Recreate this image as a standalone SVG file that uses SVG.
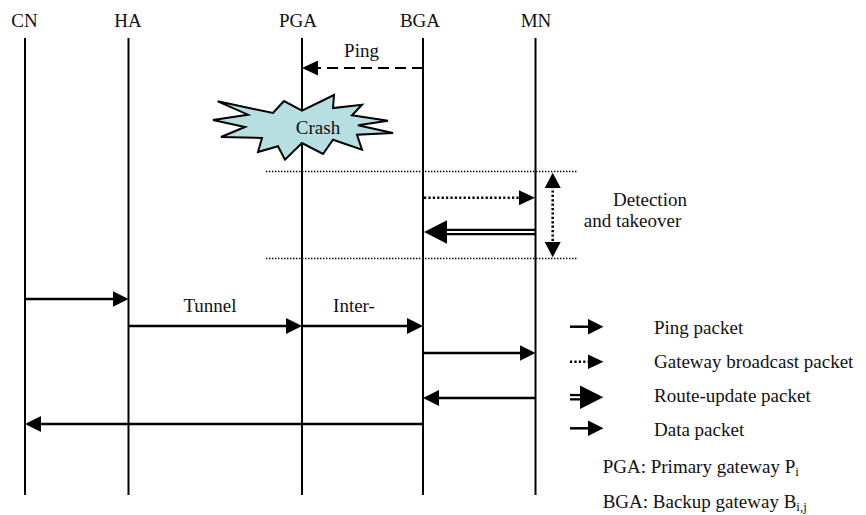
<svg xmlns="http://www.w3.org/2000/svg" width="866" height="515" viewBox="0 0 866 515">
  <style>
    text { font-family: "Liberation Serif", "Times New Roman", serif; font-size: 19px; fill: #111; }
    .mid { text-anchor: middle; }
    .life { stroke: #000; stroke-width: 2; fill: none; }
    .msg { stroke: #000; stroke-width: 2.5; fill: none; }
    .dash { stroke: #000; stroke-width: 2.2; fill: none; stroke-dasharray: 11 6; }
    .dot { stroke: #000; stroke-width: 2.6; fill: none; stroke-dasharray: 2.2 2.2; }
    .sep { stroke: #000; stroke-width: 1.3; fill: none; stroke-dasharray: 1.4 1.6; }
    .head { fill: #000; stroke: none; }
    .sub { font-size: 13px; }
  </style>
  <defs>
    <!-- solid triangular arrowhead; the line stops 8px short of the tip -->
    <marker id="arrow" markerUnits="userSpaceOnUse" viewBox="0 0 16 16" markerWidth="16" markerHeight="16" refX="8" refY="8" orient="auto">
      <path class="head" d="M0,0 L16,8 L0,16 z"/>
    </marker>
    <marker id="arrowSmall" markerUnits="userSpaceOnUse" viewBox="0 0 16 15" markerWidth="16" markerHeight="15" refX="8" refY="7.5" orient="auto">
      <path class="head" d="M0,0 L16,7.5 L0,15 z"/>
    </marker>
  </defs>

  <!-- participants: label + lifeline -->
  <g id="CN">
    <text class="mid" x="24.5" y="27">CN</text>
    <line class="life" x1="25" y1="38" x2="25" y2="495"/>
  </g>
  <g id="HA">
    <text class="mid" x="128" y="27">HA</text>
    <line class="life" x1="128.5" y1="38" x2="128.5" y2="495"/>
  </g>
  <g id="PGA">
    <text class="mid" x="298" y="27">PGA</text>
    <line class="life" x1="302" y1="38" x2="302" y2="495"/>
  </g>
  <g id="BGA">
    <text class="mid" x="420" y="27">BGA</text>
    <line class="life" x1="423" y1="38" x2="423" y2="495"/>
  </g>
  <g id="MN">
    <text class="mid" x="536" y="27">MN</text>
    <line class="life" x1="535.5" y1="38" x2="535.5" y2="495"/>
  </g>

  <!-- crash burst over the primary gateway lifeline -->
  <g id="crash">
    <polygon fill="#b6dfe2" stroke="#000" stroke-width="2" stroke-linejoin="miter"
      points="217.7,101.3 273,113 284,101 302,110.7 334,95 333,108 362,104.7 352,115.3 388,120.7 358,125.3 393,133 357,134.7 362,149.7 333,139.7 323,154 302,143 285,159.7 278,146.3 258,152 262,138 221,137 245,127 213,120 248,114.7"/>
    <text class="mid" x="318" y="134">Crash</text>
  </g>

  <!-- detection and takeover window -->
  <g id="detection">
    <line class="sep" x1="266" y1="171.5" x2="577" y2="171.5"/>
    <line class="sep" x1="266" y1="258.5" x2="577" y2="258.5"/>
    <text class="mid" x="650" y="206">Detection</text>
    <text class="mid" x="632.5" y="227">and takeover</text>
  </g>

  <!-- messages -->
  <g id="connectors">
    <!-- ping BGA -> PGA -->
    <line class="dash" x1="423" y1="68" x2="310" y2="68" marker-end="url(#arrowSmall)"/>
    <text class="mid" x="361.5" y="57">Ping</text>

    <!-- gateway broadcast BGA -> MN -->
    <line class="dot" x1="424" y1="197.7" x2="527" y2="197.7" marker-end="url(#arrowSmall)"/>

    <!-- route update MN -> BGA (double line) -->
    <line stroke="#000" stroke-width="6.6" x1="535" y1="232" x2="445" y2="232"/>
    <line stroke="#fff" stroke-width="2" x1="534.4" y1="232" x2="445" y2="232"/>
    <polygon class="head" points="424,232 447,220.3 447,243.7"/>

    <!-- detection interval -->
    <line class="dot" x1="552.7" y1="186" x2="552.7" y2="244"/>
    <polygon class="head" points="552.7,172.7 544.7,188 560.7,188"/>
    <polygon class="head" points="552.7,257.3 544.7,242 560.7,242"/>

    <!-- data path after takeover -->
    <line class="msg" x1="25" y1="299" x2="120.5" y2="299" marker-end="url(#arrow)"/>
    <line class="msg" x1="128.5" y1="326" x2="294" y2="326" marker-end="url(#arrow)"/>
    <text class="mid" x="210" y="312">Tunnel</text>
    <line class="msg" x1="302" y1="326" x2="415" y2="326" marker-end="url(#arrow)"/>
    <text class="mid" x="354" y="312">Inter-</text>
    <line class="msg" x1="423" y1="353" x2="527.5" y2="353" marker-end="url(#arrow)"/>
    <line class="msg" x1="535.5" y1="398" x2="431" y2="398" marker-end="url(#arrow)"/>
    <line class="msg" x1="423" y1="424" x2="33" y2="424" marker-end="url(#arrow)"/>
  </g>

  <!-- legend -->
  <g id="legend">
    <line class="msg" x1="570" y1="326.7" x2="595.5" y2="326.7" marker-end="url(#arrow)"/>
    <text x="654" y="334">Ping packet</text>

    <line class="dot" x1="570" y1="361.7" x2="595.5" y2="361.7" marker-end="url(#arrowSmall)"/>
    <text x="654" y="367.5">Gateway broadcast packet</text>

    <line stroke="#000" stroke-width="6.6" x1="570" y1="397.2" x2="582" y2="397.2"/>
    <line stroke="#fff" stroke-width="2" x1="569" y1="397.2" x2="582" y2="397.2"/>
    <polygon class="head" points="603.3,397.2 580,385.5 580,408.9"/>
    <text x="654" y="401.7">Route-update packet</text>

    <line class="msg" x1="570" y1="428.3" x2="595.5" y2="428.3" marker-end="url(#arrow)"/>
    <text x="654" y="435.7">Data packet</text>

    <text x="602.7" y="473.3">PGA: Primary gateway P<tspan class="sub" dy="3">i</tspan></text>
    <text x="602.7" y="507.7">BGA: Backup gateway B<tspan class="sub" dy="3">i,j</tspan></text>
  </g>
</svg>
